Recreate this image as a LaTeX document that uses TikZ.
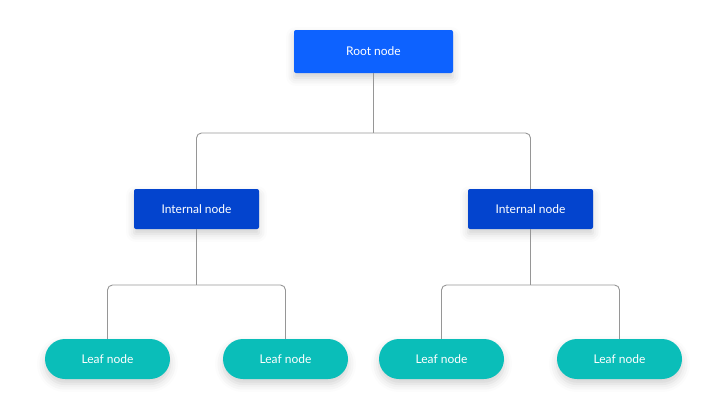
\documentclass[tikz,border=0pt]{standalone}
\usepackage{fontspec}
\setmainfont{Lato}
\usetikzlibrary{positioning,shadows.blur}

\begin{document}
\begin{tikzpicture}[
        x=1pt, y=-1pt,
        box/.style={rectangle, rounded corners=2pt, text=white, minimum height=40pt, font=\fontsize{12}{14}\selectfont,
                    blur shadow={shadow xshift=0pt, shadow yshift=-5pt, shadow blur radius=8pt, shadow opacity=18}},
        rootbox/.style={box, fill=rootblue, minimum width=159pt, minimum height=43pt},
        innerbox/.style={box, fill=innerblue, minimum width=125pt},
        leafbox/.style={box, fill=leafteal, rounded corners=20pt, minimum width=125pt},
        link/.style={draw=linegray, line width=0.9pt, rounded corners=5pt}
    ]
    \definecolor{rootblue}{RGB}{13,98,255}
    \definecolor{innerblue}{RGB}{3,68,206}
    \definecolor{leafteal}{RGB}{10,190,185}
    \definecolor{linegray}{RGB}{150,150,150}

    \useasboundingbox (0,0) rectangle (712,407);

    \node[rootbox]  (root) at (373.5,51.5) {Root node};
    \node[innerbox] (il)   at (196.5,209)  {Internal node};
    \node[innerbox] (ir)   at (530.5,209)  {Internal node};
    \node[leafbox]  (l1)   at (107.5,359)  {Leaf node};
    \node[leafbox]  (l2)   at (285.5,359)  {Leaf node};
    \node[leafbox]  (l3)   at (441.5,359)  {Leaf node};
    \node[leafbox]  (l4)   at (619.5,359)  {Leaf node};

    \coordinate (rbus) at (373.5,133);
    \coordinate (lbus) at (196.5,285);
    \coordinate (ebus) at (530.5,285);

    % bus lines between the levels
    \draw[link] (root.south) -- (rbus);
    \draw[link] (rbus) -| (il.north);
    \draw[link] (rbus) -| (ir.north);
    \draw[link] (il.south) -- (lbus);
    \draw[link] (ir.south) -- (ebus);
    \draw[link] (lbus) -| (l1.north);
    \draw[link] (lbus) -| (l2.north);
    \draw[link] (ebus) -| (l3.north);
    \draw[link] (ebus) -| (l4.north);
\end{tikzpicture}
\end{document}
